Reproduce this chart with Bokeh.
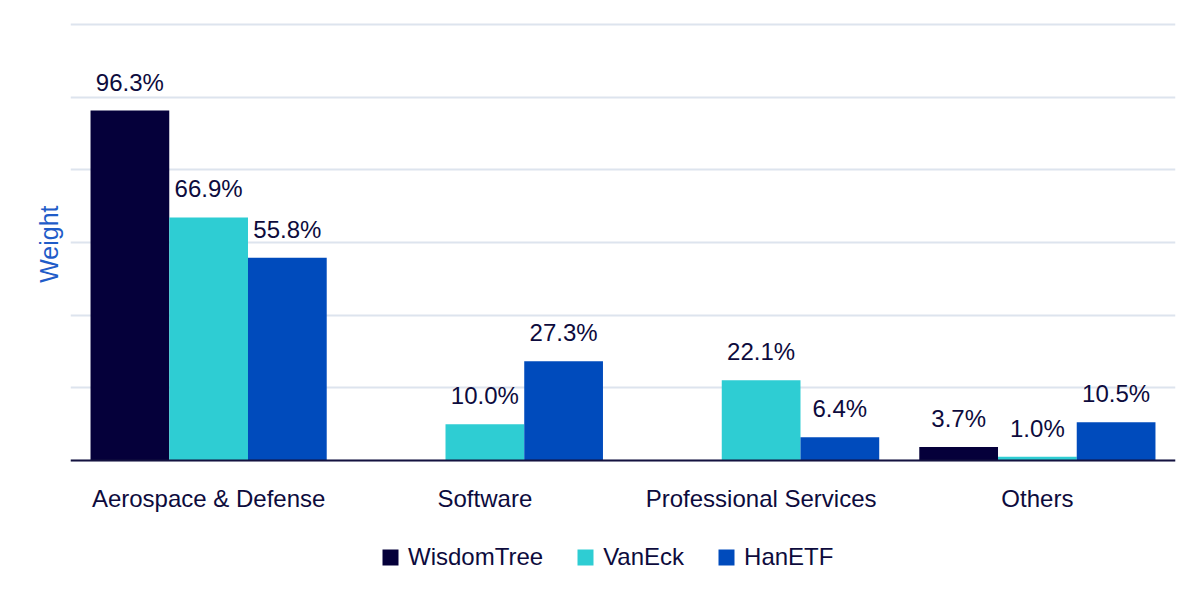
from bokeh.plotting import figure
from bokeh.models import (ColumnDataSource, FactorRange, Range1d, FixedTicker,
                          LabelSet, Legend, LegendItem, Span, Title)
from bokeh.core.properties import value
from bokeh.transform import dodge
from bokeh.embed import file_html
from bokeh.resources import INLINE

categories = ["Aerospace & Defense", "Software", "Professional Services", "Others"]
series = ["WisdomTree", "VanEck", "HanETF"]
wisdomtree = [96.3, 0.0, 0.0, 3.7]
vaneck = [66.9, 10.0, 22.1, 1.0]
hanetf = [55.8, 27.3, 6.4, 10.5]
grid_ticks = [0, 20, 40, 60, 80, 100, 120]
y_title = "Weight"

colors = ["#05003A", "#2ECDD3", "#004BBC"]
text_color = "#0D0B3D"
font = "Liberation Sans"

# layout (canvas pixels)
W, H = 1184, 581
left_px, right_px = 70, 1175
top_px, base_px, bot_px = 16, 460, 581
ppu = 436 / 120.0
y_end = (base_px - top_px) / ppu
y_start = -(bot_px - base_px) / ppu

p = figure(width=W, height=H, x_range=FactorRange(*categories, range_padding=0),
           y_range=Range1d(y_start, y_end), output_backend="svg", toolbar_location=None,
           min_border_left=left_px, min_border_right=W - right_px,
           min_border_top=top_px, min_border_bottom=0)
p.outline_line_color = None

p.ygrid.ticker = FixedTicker(ticks=grid_ticks)
p.ygrid.grid_line_color = "#DDE4EE"
p.ygrid.grid_line_width = 2
p.xgrid.grid_line_color = None

values = [wisdomtree, vaneck, hanetf]
offsets = [-0.285, 0.0, 0.285]
items = []
for name, vals, col, off in zip(series, values, colors, offsets):
    src = ColumnDataSource(dict(cat=categories, val=vals))
    r = p.vbar(x=dodge("cat", off, range=p.x_range), top="val", width=0.285,
               source=src, fill_color=col, line_color=None)
    items.append(LegendItem(label=name, renderers=[r]))
    lab = dict(cat=[c for c, v in zip(categories, vals) if v > 0],
               val=[v for v in vals if v > 0],
               txt=[f"{v:.1f}%" for v in vals if v > 0])
    p.add_layout(LabelSet(x=dodge("cat", off, range=p.x_range), y="val", text="txt",
                          source=ColumnDataSource(lab), y_offset=20,
                          text_align="center", text_baseline="alphabetic",
                          text_font_size="24px", text_font=value(font),
                          text_color=text_color))

# baseline
p.add_layout(Span(location=0, dimension="width", line_color="#14123F", line_width=2))

# category labels
cat_src = ColumnDataSource(dict(cat=categories, y=[0] * len(categories)))
p.add_layout(LabelSet(x="cat", y="y", text="cat", source=cat_src, y_offset=-46,
                      text_align="center", text_baseline="alphabetic",
                      text_font_size="24px", text_font=value(font),
                      text_color=text_color))

p.xaxis.visible = False
p.yaxis.visible = False

# y title: placed from the top of the frame so it sits beside the 0..120 span
p.add_layout(Title(text=y_title, align="right", offset=189,
                   text_font_size="25px", text_font=font, text_font_style="normal",
                   text_color="#1F5CC8", standoff=15), "left")

legend = Legend(items=items, orientation="horizontal", location=(310, 10),
                glyph_width=20, glyph_height=20, label_standoff=8, spacing=32,
                label_text_font=font, label_text_font_size="24px",
                label_text_color=text_color, background_fill_alpha=0,
                border_line_color=None, padding=0, margin=0)
p.add_layout(legend, "center")

open("out.html", "w").write(file_html(p, INLINE))
